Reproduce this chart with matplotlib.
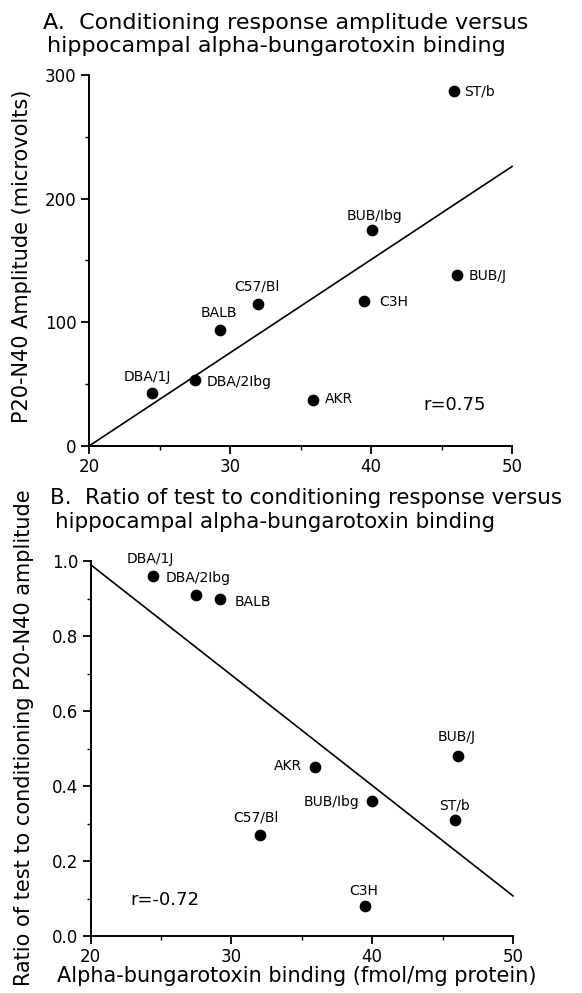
import numpy as np
import matplotlib
matplotlib.use("Agg")
import matplotlib.pyplot as plt
from matplotlib.ticker import MultipleLocator, FormatStrFormatter

plt.rcParams["font.family"] = ["DejaVu Sans"]

# strain values
strains_a = ["ST/b", "BUB/Ibg", "BUB/J", "C3H", "C57/Bl", "BALB", "DBA/2Ibg", "DBA/1J", "AKR"]
binding_a = [45.9, 40.05, 46.1, 39.5, 32.0, 29.3, 27.5, 24.5, 35.9]
amplitude = [287, 175, 138, 117, 115, 94, 53, 43, 37]
fit_x_a = [20, 50]
fit_y_a = [0, 226]
r_a = "r=0.75"

strains_b = ["DBA/1J", "DBA/2Ibg", "BALB", "BUB/J", "AKR", "BUB/Ibg", "ST/b", "C57/Bl", "C3H"]
binding_b = [24.4, 27.45, 29.2, 46.1, 35.9, 40.0, 45.9, 32.0, 39.5]
ratio = [0.96, 0.91, 0.90, 0.48, 0.45, 0.36, 0.31, 0.27, 0.08]
fit_x_b = [20, 50]
fit_y_b = [0.99, 0.107]
r_b = "r=-0.72"

# label placement: (dx px, dy px, ha)
place_a = {
    "ST/b": (10, 0, "left"), "BUB/Ibg": (3, 14, "center"), "BUB/J": (12, -1, "left"),
    "C3H": (15, -1, "left"), "C57/Bl": (-1, 17, "center"), "BALB": (-1, 17, "center"),
    "DBA/2Ibg": (12, -2, "left"), "DBA/1J": (-5, 16, "center"), "AKR": (12, 1, "left"),
}
place_b = {
    "DBA/1J": (-2, 17, "center"), "DBA/2Ibg": (3, 17, "center"), "BALB": (14, -3, "left"),
    "BUB/J": (-1, 19, "center"), "AKR": (-13, 1, "right"), "BUB/Ibg": (-13, -1, "right"),
    "ST/b": (-1, 14, "center"), "C57/Bl": (-4, 17, "center"), "C3H": (-2, 15, "center"),
}

W, H = 582, 993
fig = plt.figure(figsize=(W / 100, H / 100), dpi=100)


def px(x, y):
    return x / W, 1 - y / H


def style_axes(ax):
    for s in ["top", "right"]:
        ax.spines[s].set_visible(False)
    for s in ["left", "bottom"]:
        ax.spines[s].set_linewidth(1.4)
    ax.tick_params(which="major", direction="out", length=6, width=1.3, labelsize=12, pad=3)
    ax.tick_params(which="minor", direction="out", length=3, width=1.0)
    ax.set_xlim(20, 50)
    ax.xaxis.set_major_locator(MultipleLocator(10))
    ax.xaxis.set_minor_locator(MultipleLocator(5))


def draw(ax, xs, ys, names, place, fx, fy):
    ax.plot(fx, fy, color="black", lw=1.2, clip_on=False)
    ax.scatter(xs, ys, s=55, color="black", zorder=3, clip_on=False)
    for x, y, n in zip(xs, ys, names):
        dx, dy, ha = place[n]
        ax.annotate(n, (x, y), xytext=(dx, dy), textcoords="offset pixels",
                    ha=ha, va="center", fontsize=10)


# panel A
ax1 = fig.add_axes([89 / W, 1 - 446 / H, 423 / W, 371 / H])
style_axes(ax1)
ax1.set_ylim(0, 300)
ax1.yaxis.set_major_locator(MultipleLocator(100))
ax1.yaxis.set_minor_locator(MultipleLocator(50))
draw(ax1, binding_a, amplitude, strains_a, place_a, fit_x_a, fit_y_a)
ax1.text(43.7, 33, r_a, fontsize=13, va="center", ha="left")

# panel B
ax2 = fig.add_axes([90.7 / W, 1 - 936 / H, 422.3 / W, 375 / H])
style_axes(ax2)
ax2.set_ylim(0, 1.0)
ax2.yaxis.set_major_locator(MultipleLocator(0.2))
ax2.yaxis.set_minor_locator(MultipleLocator(0.1))
ax2.yaxis.set_major_formatter(FormatStrFormatter("%.1f"))
draw(ax2, binding_b, ratio, strains_b, place_b, fit_x_b, fit_y_b)
ax2.text(22.8, 0.096, r_b, fontsize=13, va="center", ha="left")

# titles and axis labels
fig.text(*px(43, 23), "A.  Conditioning response amplitude versus", fontsize=16, va="center")
fig.text(*px(47, 46), "hippocampal alpha-bungarotoxin binding", fontsize=16, va="center")
fig.text(*px(50, 498), "B.  Ratio of test to conditioning response versus", fontsize=15.4, va="center")
fig.text(*px(55, 522), "hippocampal alpha-bungarotoxin binding", fontsize=15.4, va="center")

fig.text(*px(22, 256), "P20-N40 Amplitude (microvolts)", fontsize=15, rotation=90,
         ha="center", va="center")
fig.text(*px(24, 738), "Ratio of test to conditioning P20-N40 amplitude", fontsize=15,
         rotation=90, ha="center", va="center")
fig.text(*px(297, 976), "Alpha-bungarotoxin binding (fmol/mg protein)", fontsize=15,
         ha="center", va="center")

fig.savefig("out.png", dpi=100)
